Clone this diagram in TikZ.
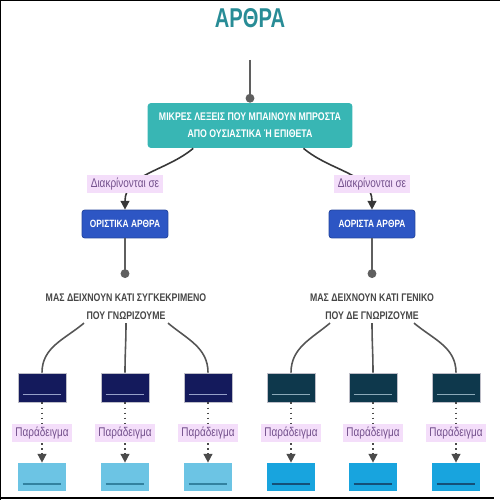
\documentclass[tikz,border=0pt]{standalone}
\usepackage{fontspec}
\setmainfont{Liberation Sans}
\newfontfamily\narrowfont[FakeStretch=0.79]{Liberation Sans}
\newfontfamily\titlefont[FakeStretch=0.74]{Liberation Sans}
\usepackage{tikz}
\usetikzlibrary{positioning, calc, arrows.meta}
\definecolor{titleteal}{RGB}{40, 140, 150}
\definecolor{mainteal}{RGB}{56, 182, 180}
\definecolor{catblue}{RGB}{45, 86, 196}
\definecolor{navybox}{RGB}{20, 26, 92}
\definecolor{deepteal}{RGB}{14, 56, 76}
\definecolor{skybox}{RGB}{108, 196, 228}
\definecolor{cyanbox}{RGB}{24, 164, 222}
\definecolor{labelbg}{RGB}{244, 222, 250}
\definecolor{labeltext}{RGB}{115, 80, 140}
\definecolor{linkgray}{RGB}{55, 55, 55}
\definecolor{darktext}{RGB}{70, 70, 70}
\definecolor{boxedge}{RGB}{190, 190, 200}
\definecolor{navyline}{RGB}{150, 160, 200}
\definecolor{tealline}{RGB}{140, 170, 185}
\definecolor{skyline}{RGB}{50, 130, 160}
\definecolor{cyanline}{RGB}{20, 80, 120}

\begin{document}
\begin{tikzpicture}[x=0.02cm, y=-0.02cm,
    mainbox/.style={fill=mainteal, rounded corners=2pt, minimum width=4.1cm, minimum height=0.9cm,
        text=white, align=center, font=\narrowfont\bfseries\fontsize{6.3}{9.6}\selectfont},
    catbox/.style={fill=catblue, draw=catblue!80!black, rounded corners=1.5pt, minimum width=1.72cm,
        minimum height=0.56cm, text=white, font=\narrowfont\bfseries\fontsize{6}{7}\selectfont},
    desc/.style={text=darktext, align=center, font=\narrowfont\bfseries\fontsize{6.3}{10.2}\selectfont},
    tag/.style={fill=labelbg, text=labeltext, inner xsep=2pt, inner ysep=1.8pt,
        font=\narrowfont\fontsize{7.2}{8}\selectfont},
    darkbox/.style={draw=boxedge, line width=0.5pt, minimum width=0.96cm, minimum height=0.58cm},
    lightbox/.style={minimum width=0.96cm, minimum height=0.56cm},
    link/.style={draw=linkgray, line width=0.9pt},
    stem/.style={draw=linkgray!80, line width=0.8pt, -{Circle[length=5pt]}},
    dotlink/.style={draw=linkgray!90, dotted, line width=0.9pt, -{Triangle[length=5pt, width=5pt]}}]
    \useasboundingbox (0,0) rectangle (500,500);
    % Frame
    \draw[black, line width=1.2pt] (0,500) -- (0,0) -- (500,0);
    \draw[black, line width=1.2pt] (0,498) -- (494,498);
    % Title
    \node[font=\titlefont\bfseries\fontsize{15.5}{15.5}\selectfont, text=titleteal] (title) at (250,18) {ΑΡΘΡΑ};
    % Main box
    \coordinate (entry) at (250,60);
    \node[mainbox] (mainbox) at (250,125.5) {ΜΙΚΡΕΣ ΛΕΞΕΙΣ ΠΟΥ ΜΠΑΙΝΟΥΝ ΜΠΡΟΣΤΑ\\ΑΠΟ ΟΥΣΙΑΣΤΙΚΑ Ή ΕΠΙΘΕΤΑ};
    \draw[stem] (entry) -- (mainbox.north);
    % Categories
    \node[catbox] (defbox) at (125,224) {ΟΡΙΣΤΙΚΑ ΑΡΘΡΑ};
    \node[catbox] (indefbox) at (372,224) {ΑΟΡΙΣΤΑ ΑΡΘΡΑ};
    \draw[link, -{Triangle[length=5pt, width=5pt]}] ($(mainbox.south west)!0.224!(mainbox.south east)$)
        to[out=-140, in=90] (defbox.north);
    \draw[link, -{Triangle[length=5pt, width=5pt]}] ($(mainbox.south west)!0.76!(mainbox.south east)$)
        to[out=-40, in=90] (indefbox.north);
    \node[tag] (deftag) at (125,184) {Διακρίνονται σε};
    \node[tag] (indeftag) at (372,184) {Διακρίνονται σε};
    % Descriptions
    \coordinate (defdot) at (125,278);
    \coordinate (indefdot) at (372,278);
    \draw[stem] (defbox.south) -- (defdot);
    \draw[stem] (indefbox.south) -- (indefdot);
    \node[desc] (defdesc) at (126,307) {ΜΑΣ ΔΕΙΧΝΟΥΝ ΚΑΤΙ ΣΥΓΚΕΚΡΙΜΕΝΟ\\ΠΟΥ ΓΝΩΡΙΖΟΥΜΕ};
    \node[desc] (indefdesc) at (372,307) {ΜΑΣ ΔΕΙΧΝΟΥΝ ΚΑΤΙ ΓΕΝΙΚΟ\\ΠΟΥ ΔΕ ΓΝΩΡΙΖΟΥΜΕ};
    % Example boxes, definite
    \foreach \i/\x/\dx/\ang in {1/42/-42/-140, 2/125/0/-90, 3/208/42/-40} {
        \node[darkbox, fill=navybox] (dd\i) at (\x,387.5) {};
        \draw[navyline, line width=1pt] ($(dd\i.south west)+(5,-8)$) -- ($(dd\i.south east)+(-5,-8)$);
        \node[lightbox, fill=skybox] (dl\i) at (\x,477) {};
        \draw[skyline, line width=1pt] ($(dl\i.south west)+(5,-7)$) -- ($(dl\i.south east)+(-5,-7)$);
        \draw[link, draw=linkgray!85] ($(defdesc.south)+(\dx,-3)$) to[out=\ang, in=90] (dd\i.north);
        \draw[dotlink] (dd\i.south) -- (dl\i.north);
        \node[tag] (dt\i) at (\x,433) {Παράδειγμα};
    }
    % Example boxes, indefinite
    \foreach \i/\x/\dx/\ang in {1/291/-42/-140, 2/373/0/-90, 3/456/42/-40} {
        \node[darkbox, fill=deepteal] (id\i) at (\x,387.5) {};
        \draw[tealline, line width=1pt] ($(id\i.south west)+(5,-8)$) -- ($(id\i.south east)+(-5,-8)$);
        \node[lightbox, fill=cyanbox] (il\i) at (\x,477) {};
        \draw[cyanline, line width=1pt] ($(il\i.south west)+(5,-7)$) -- ($(il\i.south east)+(-5,-7)$);
        \draw[link, draw=linkgray!85] ($(indefdesc.south)+(\dx,-3)$) to[out=\ang, in=90] (id\i.north);
        \draw[dotlink] (id\i.south) -- (il\i.north);
        \node[tag] (it\i) at (\x,433) {Παράδειγμα};
    }
\end{tikzpicture}
\end{document}
